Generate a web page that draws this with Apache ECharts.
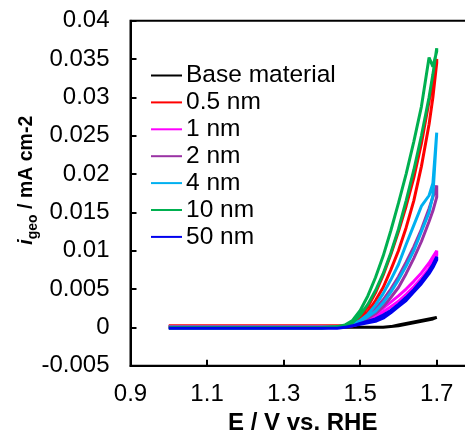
<!DOCTYPE html>
<html>
<head>
<meta charset="utf-8">
<script src="https://cdn.jsdelivr.net/npm/echarts@6/dist/echarts.min.js"></script>
<style>
  html, body { margin: 0; padding: 0; background: #ffffff; }
  #chart { width: 465px; height: 432px; }
</style>
</head>
<body>
<div id="chart"></div>
<script>
// Potential grid (V vs. RHE) shared by the forward and reverse scans
const potentials = [1.00, 1.10, 1.20, 1.30, 1.40, 1.44, 1.46, 1.48, 1.50, 1.52,
                    1.54, 1.56, 1.58, 1.60, 1.62, 1.64, 1.66, 1.68, 1.69, 1.70];

const xTicks = [0.9, 1.1, 1.3, 1.5, 1.7];
const yTicks = [-0.005, 0, 0.005, 0.01, 0.015, 0.02, 0.025, 0.03, 0.035, 0.04];

const seriesNames  = ['Base material', '0.5 nm', '1 nm', '2 nm', '4 nm', '10 nm', '50 nm'];
const seriesColors = ['#000000', '#ff0000', '#ff00ff', '#9a32a4', '#00b0f0', '#00b050', '#0000ee'];

// Current density (mA cm-2), forward scan then reverse scan, at each potential above
const baseFwd = [0.0001, 0.0001, 0.0001, 0.0001, 0.0001, 0.0001, 0.0001, 0.0001, 0.0000, 0.0000,
                 0.0000, 0.0000, 0.0001, 0.0003, 0.0005, 0.0007, 0.0009, 0.0011, 0.0012, 0.0013];
const baseRev = [0.0000, 0.0000, 0.0000, 0.0000, 0.0000, 0.0000, 0.0000, 0.0000, 0.0000, 0.0000,
                 0.0000, 0.0000, 0.0001, 0.0002, 0.0004, 0.0006, 0.0008, 0.0010, 0.0011, 0.0013];

const nm05Fwd = [0.0002, 0.0002, 0.0002, 0.0002, 0.0002, 0.0002, 0.0002, 0.0004, 0.0010, 0.0020,
                 0.0035, 0.0052, 0.0075, 0.0100, 0.0130, 0.0165, 0.0210, 0.0265, 0.0300, 0.0345];
const nm05Rev = [0.0000, 0.0000, 0.0000, 0.0000, 0.0000, 0.0001, 0.0002, 0.0005, 0.0013, 0.0027,
                 0.0045, 0.0068, 0.0095, 0.0125, 0.0158, 0.0195, 0.0240, 0.0295, 0.0325, 0.0350];

const nm1Fwd = [0.0001, 0.0001, 0.0001, 0.0001, 0.0001, 0.0001, 0.0001, 0.0002, 0.0005, 0.0009,
                0.0014, 0.0020, 0.0027, 0.0034, 0.0043, 0.0053, 0.0064, 0.0077, 0.0085, 0.0094];
const nm1Rev = [0.0000, 0.0000, 0.0000, 0.0000, 0.0000, 0.0000, 0.0001, 0.0003, 0.0007, 0.0012,
                0.0018, 0.0025, 0.0033, 0.0041, 0.0050, 0.0060, 0.0071, 0.0084, 0.0092, 0.0100];

const nm2Fwd = [0.0000, 0.0000, 0.0000, 0.0000, 0.0000, 0.0000, 0.0001, 0.0003, 0.0007, 0.0012,
                0.0018, 0.0027, 0.0039, 0.0052, 0.0070, 0.0090, 0.0112, 0.0138, 0.0152, 0.0170];
const nm2Rev = [0.0000, 0.0000, 0.0000, 0.0000, 0.0000, 0.0000, 0.0001, 0.0003, 0.0008, 0.0015,
                0.0024, 0.0036, 0.0050, 0.0066, 0.0085, 0.0105, 0.0128, 0.0155, 0.0170, 0.0185];

const nm4Fwd = [0.0000, 0.0000, 0.0000, 0.0000, 0.0000, 0.0000, 0.0001, 0.0003, 0.0008, 0.0014,
                0.0021, 0.0032, 0.0046, 0.0062, 0.0080, 0.0100, 0.0125, 0.0150, 0.0172, 0.0254];
const nm4Rev = [0.0000, 0.0000, 0.0000, 0.0000, 0.0000, 0.0000, 0.0001, 0.0004, 0.0009, 0.0017,
                0.0029, 0.0044, 0.0062, 0.0082, 0.0108, 0.0133, 0.0158, 0.0172, 0.0188, 0.0254];

const nm10Fwd = [0.0000, 0.0000, 0.0000, 0.0000, 0.0000, 0.0001, 0.0002, 0.0006, 0.0016, 0.0030,
                 0.0048, 0.0070, 0.0097, 0.0128, 0.0165, 0.0205, 0.0250, 0.0300, 0.0330, 0.0364];
const nm10Rev = [-0.0001, -0.0001, -0.0001, -0.0001, -0.0001, 0.0001, 0.0003, 0.0009, 0.0022, 0.0041,
                 0.0065, 0.0093, 0.0126, 0.0162, 0.0200, 0.0242, 0.0288, 0.0352, 0.0340, 0.0360];

const nm50Fwd = [-0.0001, -0.0001, -0.0001, -0.0001, -0.0001, -0.0001, 0.0000, 0.0002, 0.0004, 0.0006,
                 0.0008, 0.0012, 0.0019, 0.0027, 0.0035, 0.0046, 0.0057, 0.0070, 0.0078, 0.0088];
const nm50Rev = [-0.0001, -0.0001, -0.0001, -0.0001, -0.0001, -0.0001, 0.0000, 0.0002, 0.0005, 0.0008,
                 0.0011, 0.0016, 0.0022, 0.0030, 0.0039, 0.0049, 0.0061, 0.0074, 0.0082, 0.0092];

const scans = [
  [baseFwd, baseRev], [nm05Fwd, nm05Rev], [nm1Fwd, nm1Rev], [nm2Fwd, nm2Rev],
  [nm4Fwd, nm4Rev], [nm10Fwd, nm10Rev], [nm50Fwd, nm50Rev]
];

// Join a forward sweep and its return sweep into one closed voltammogram
function voltammogram(fwd, rev) {
  const pts = potentials.map((e, i) => [e, fwd[i]]);
  for (let i = potentials.length - 1; i >= 0; i--) pts.push([potentials[i], rev[i]]);
  return pts;
}

const FONT = '"Liberation Sans", Arial, sans-serif';

const chart = echarts.init(document.getElementById('chart'), null, { renderer: 'canvas' });

chart.setOption({
  backgroundColor: '#ffffff',
  animation: false,
  grid: {
    left: 130.5, top: 20.7, bottom: 66.3, right: -10,
    outerBoundsMode: 'none', containLabel: false,
    show: true, borderColor: '#000000', borderWidth: 2, backgroundColor: 'transparent'
  },
  legend: {
    data: seriesNames,
    orient: 'vertical',
    left: 151, top: 63, padding: 0,
    itemWidth: 31, itemHeight: 10, itemGap: 1.9,
    icon: 'path://M0,0 L31,0 L31,2 L0,2 Z',
    textStyle: { fontFamily: FONT, fontSize: 24.5, color: '#000000', lineHeight: 24, padding: [0, 0, 0, -1] }
  },
  xAxis: {
    type: 'value',
    min: xTicks[0], max: 1.8, interval: 0.2,
    name: 'E / V vs. RHE',
    nameLocation: 'middle', nameGap: 44,
    nameTextStyle: { fontFamily: FONT, fontSize: 24, fontWeight: 'bold', color: '#000000' },
    axisLine: { show: true, onZero: false, lineStyle: { color: '#000000', width: 2 } },
    axisTick: { show: true, inside: true, length: 6, lineStyle: { color: '#000000', width: 2 } },
    axisLabel: {
      fontFamily: FONT, fontSize: 24, color: '#000000', margin: 17, showMaxLabel: false,
      formatter: v => (xTicks.some(t => Math.abs(t - v) < 1e-9) ? v.toFixed(1) : '')
    },
    splitLine: { show: false }
  },
  yAxis: {
    type: 'value',
    min: yTicks[0], max: yTicks[yTicks.length - 1], interval: 0.005,
    name: '{i|i}{sub|geo}{t| / mA cm-2}',
    nameLocation: 'middle', nameGap: 90, nameMoveOverlap: false,
    nameTextStyle: {
      fontFamily: FONT, fontSize: 19.5, fontWeight: 'bold', color: '#000000',
      padding: [0, 0, 0, 26],
      rich: {
        i:   { fontFamily: FONT, fontSize: 19.5, fontWeight: 'bold', fontStyle: 'italic', color: '#000000', lineHeight: 28 },
        sub: { fontFamily: FONT, fontSize: 14, fontWeight: 'bold', color: '#000000', lineHeight: 14, verticalAlign: 'bottom' },
        t:   { fontFamily: FONT, fontSize: 19.5, fontWeight: 'bold', color: '#000000', lineHeight: 28 }
      }
    },
    axisLine: { show: true, onZero: false, lineStyle: { color: '#000000', width: 2 } },
    axisTick: { show: true, inside: true, length: 6, lineStyle: { color: '#000000', width: 2 } },
    axisLabel: {
      fontFamily: FONT, fontSize: 24, color: '#000000', margin: 21,
      formatter: v => String(parseFloat(v.toFixed(4)))
    },
    splitLine: { show: false }
  },
  series: seriesNames.map((name, k) => ({
    name,
    type: 'line',
    data: voltammogram(scans[k][0], scans[k][1]),
    symbol: 'none',
    smooth: false,
    clip: true,
    color: seriesColors[k],
    lineStyle: { color: seriesColors[k], width: 3 },
    z: 2 + k
  }))
});
</script>
</body>
</html>
